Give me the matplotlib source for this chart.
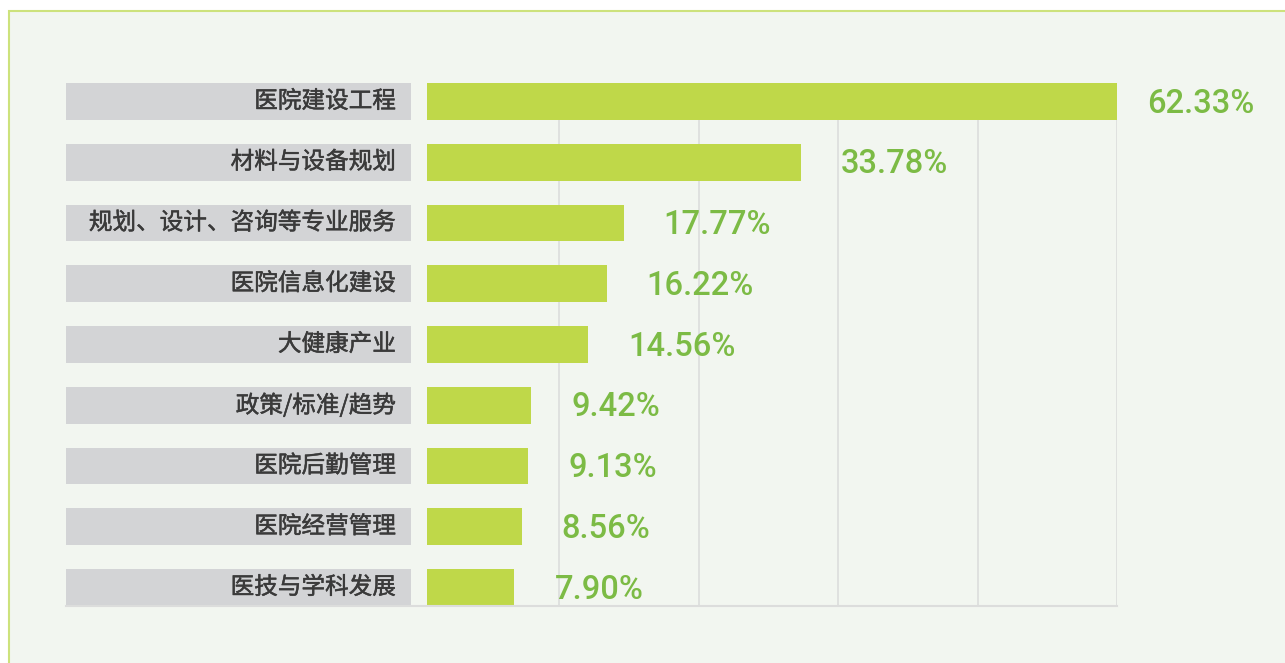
import matplotlib
matplotlib.use("Agg")
import matplotlib.pyplot as plt
import matplotlib.patheffects as pe
from matplotlib.patches import Rectangle
from matplotlib.lines import Line2D

# data
categories = ['医院建设工程', '材料与设备规划', '规划、设计、咨询等专业服务', '医院信息化建设',
              '大健康产业', '政策/标准/趋势', '医院后勤管理', '医院经营管理', '医技与学科发展']
values = [62.33, 33.78, 17.77, 16.22, 14.56, 9.42, 9.13, 8.56, 7.90]
value_labels = ['62.33%', '33.78%', '17.77%', '16.22%', '14.56%', '9.42%', '9.13%', '8.56%', '7.90%']

W, H = 1285, 663
bg = '#f2f6f0'
bar_color = '#bfd849'
box_color = '#d3d4d6'
text_green = '#7cbb45'
grid_color = '#dcdddc'
label_color = '#3a3a3a'

fig = plt.figure(figsize=(W / 100, H / 100), dpi=100)
fig.patch.set_facecolor('white')

# panel background with green border on top/left
fig.add_artist(Rectangle((8.5 / W, -0.1), 1.2, (H - 10.5) / H + 0.1, transform=fig.transFigure,
                         facecolor=bg, edgecolor='#cde27c', lw=1.5, zorder=0))

n = len(categories)
ypos = list(range(n))
bar_h = 0.609
ylim = (n - 1 + bar_h / 2, -bar_h / 2)
top_px, bot_px = 83, 606
ax_b = bot_px
ax_h = bot_px - top_px

# label boxes
axl = fig.add_axes([66 / W, (H - ax_b) / H, 345 / W, ax_h / H])
axl.barh(ypos, [1] * n, height=bar_h, left=0, color=box_color, zorder=2)
axl.set_xlim(0, 1)
axl.set_ylim(*ylim)
axl.axis('off')
for y, c in zip(ypos, categories):
    axl.text((396 - 66) / 345, y, c, ha='right', va='center', fontsize=17,
             family=['Noto Sans CJK SC', 'DejaVu Sans'], color=label_color,
             path_effects=[pe.withStroke(linewidth=0.35, foreground=label_color)])

# bars
x0 = -7 / 11.07
axb = fig.add_axes([420 / W, (H - ax_b) / H, 697 / W, ax_h / H])
axb.set_facecolor('none')
axb.barh(ypos, values, height=bar_h, color=bar_color, zorder=3)
axb.set_xlim(x0, values[0])
axb.set_ylim(*ylim)
step = (values[0] - x0) / 5
for i in range(1, 6):
    axb.axvline(x0 + i * step, color=grid_color, lw=1.2, zorder=1)
for s in axb.spines.values():
    s.set_visible(False)
axb.set_xticks([])
axb.set_yticks([])

for i, (v, lab) in enumerate(zip(values, value_labels)):
    off = 30 if i == 0 else 40
    axb.annotate(lab, (v, i), xytext=(off * 0.72, -1.5), textcoords='offset points',
                 ha='left', va='center', fontsize=23.5, family='Roboto', weight='medium',
                 color=text_green, annotation_clip=False, zorder=4)

# baseline under both panels
fig.add_artist(Line2D([66 / W, 1117 / W], [(H - bot_px) / H] * 2, transform=fig.transFigure,
                      color=grid_color, lw=1.5, zorder=1))

fig.savefig('out.png', dpi=100, facecolor=fig.get_facecolor())
